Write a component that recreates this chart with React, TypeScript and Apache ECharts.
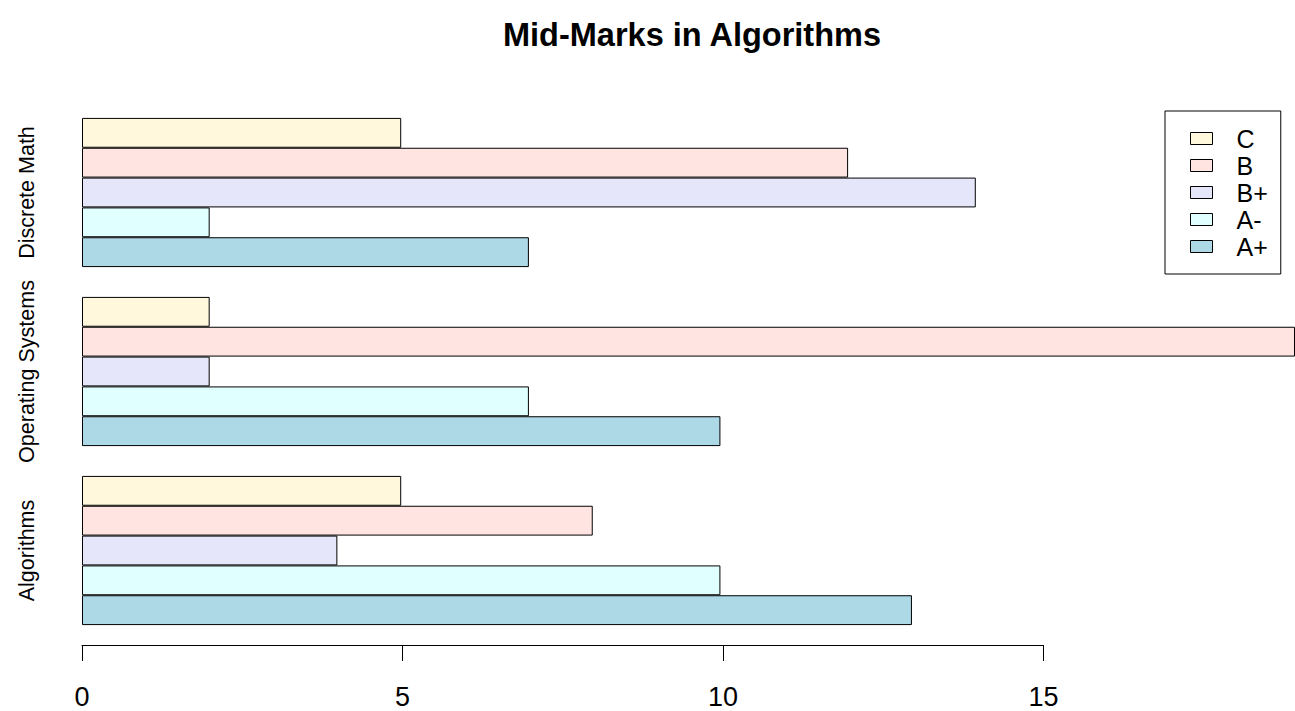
import React, { useEffect, useRef } from "react";
import * as echarts from "echarts";

const categories = ["Algorithms", "Operating Systems", "Discrete Math"];
const seriesNames = ["C", "B", "B+", "A-", "A+"];
const seriesColors = ["#FFF8DC", "#FFE4E1", "#E6E6FA", "#E0FFFF", "#ADD8E6"];
const valuesC = [5, 2, 5];
const valuesB = [8, 19, 12];
const valuesBPlus = [4, 2, 14];
const valuesAMinus = [10, 7, 2];
const valuesAPlus = [13, 10, 7];
const xTicks = [0, 5, 10, 15];

const FONT = "'Liberation Sans', Arial, Helvetica, sans-serif";

export default function App() {
  const ref = useRef<HTMLDivElement>(null);
  useEffect(() => {
    if (!ref.current) return;
    const chart = echarts.init(ref.current, null, { renderer: "svg" });
    const allValues = [valuesC, valuesB, valuesBPlus, valuesAMinus, valuesAPlus];
    const unit = 64.1;
    const dataMax = 19;
    const tickMax = xTicks[xTicks.length - 1];
    chart.setOption({
      animation: false,
      backgroundColor: "#ffffff",
      title: {
        text: "Mid-Marks in Algorithms",
        left: 687,
        top: 13,
        textAlign: "center",
        textStyle: { fontFamily: FONT, fontWeight: "bold", fontSize: 32.5, color: "#000" },
      },
      legend: {
        data: seriesNames,
        orient: "vertical",
        left: 1165,
        top: 111,
        padding: [15, 13, 15, 25],
        itemWidth: 22,
        itemHeight: 12,
        itemGap: 2,
        icon: "rect",
        borderColor: "#000",
        borderWidth: 1,
        borderRadius: 0,
        itemStyle: { borderColor: "#000", borderWidth: 1 },
        textStyle: {
          fontFamily: FONT,
          fontSize: 25,
          lineHeight: 25,
          color: "#000",
          padding: [0, 0, 0, 19],
        },
      },
      grid: [
        { left: 82, top: 103, height: 537, width: unit * dataMax },
        { left: 82, top: 644, height: 1, width: unit * tickMax },
      ],
      xAxis: [
        { type: "value", gridIndex: 0, min: 0, max: dataMax, show: false },
        {
          type: "value",
          gridIndex: 1,
          min: 0,
          max: tickMax,
          interval: 5,
          position: "bottom",
          axisLine: { show: true, lineStyle: { color: "#000", width: 1 } },
          axisTick: { show: true, length: 16, lineStyle: { color: "#000", width: 1 } },
          splitLine: { show: false },
          axisLabel: { fontFamily: FONT, fontSize: 27, color: "#000", margin: 38 },
        },
      ],
      yAxis: [
        {
          type: "category",
          gridIndex: 0,
          data: categories,
          axisLine: { show: false },
          axisTick: { show: false },
          axisLabel: {
            interval: 0,
            rotate: 90,
            fontFamily: FONT,
            fontSize: 21.5,
            color: "#000",
            margin: 44,
            hideOverlap: false,
          },
        },
        { type: "value", gridIndex: 1, show: false },
      ],
      series: seriesNames.map((name, i) => ({
        name,
        type: "bar",
        xAxisIndex: 0,
        yAxisIndex: 0,
        data: allValues[i],
        barGap: "0%",
        barCategoryGap: "16.67%",
        itemStyle: { color: seriesColors[i], borderColor: "#000", borderWidth: 1 },
      })),
    });
    return () => chart.dispose();
  }, []);
  return (
    <div
      ref={ref}
      style={{ position: "fixed", left: 0, top: 0, width: 1295, height: 711 }}
    />
  );
}
